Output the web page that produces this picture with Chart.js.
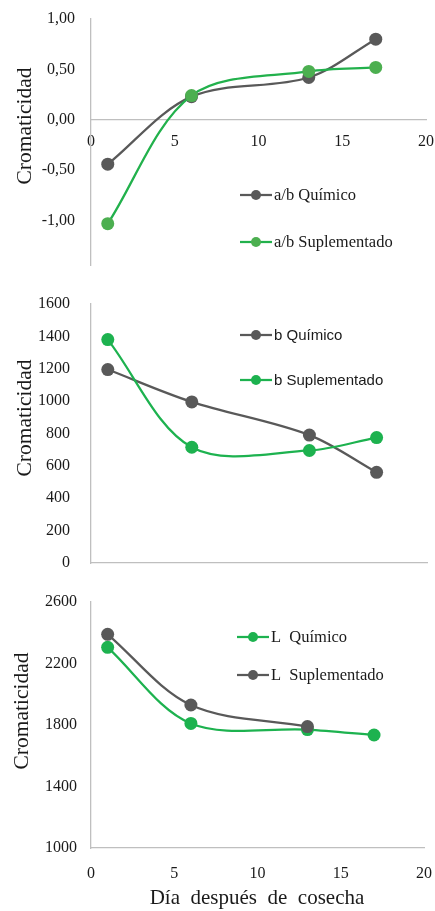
<!DOCTYPE html>
<html>
<head>
<meta charset="utf-8">
<script src="https://cdn.jsdelivr.net/npm/chart.js@4.4.1/dist/chart.umd.min.js"></script>
<style>
  html, body { margin: 0; padding: 0; background: #fff; }
  #wrap { position: relative; width: 435px; height: 911px; overflow: hidden; }
  .panel { position: absolute; left: 0; width: 435px; }
</style>
</head>
<body>
<div id="wrap">
  <div class="panel" style="top:0;height:285px"><canvas id="c1"></canvas></div>
  <div class="panel" style="top:285px;height:300px"><canvas id="c2"></canvas></div>
  <div class="panel" style="top:585px;height:326px"><canvas id="c3"></canvas></div>
</div>
<script>
// Días de muestreo después de la cosecha
const days = [1, 6, 13, 17];

// Relación a/b
const abQuimico = [-0.44, 0.23, 0.42, 0.80];
const abSuplementado = [-1.03, 0.24, 0.48, 0.52];

// Coordenada b
const bQuimico = [1195, 995, 790, 560];
const bSuplementado = [1380, 715, 695, 775];

// Luminosidad L
const lQuimico = [2305, 1810, 1770, 1735];
const lSuplementado = [2390, 1930, 1790];

const seriesNames = {
  ab: ['a/b Químico', 'a/b Suplementado'],
  b: ['b Químico', 'b Suplementado'],
  L: ['L  Químico', 'L  Suplementado']
};
const yAxisTitle = 'Cromaticidad';
const xAxisTitle = 'Día  después  de  cosecha';

const GRAY = '#595959';
const GREEN = '#1DB24F';
const GREEN_SOFT = '#4CAF50';
const AXIS = '#BFBFBF';
const TEXT = '#1a1a1a';
const SERIF = '"Liberation Serif", "Times New Roman", serif';
const SANS = '"Liberation Sans", Arial, sans-serif';

const pairs = (ys) => ys.map((y, i) => ({ x: days[i], y }));

// Leyenda con línea y marcador, dibujada dentro del área del gráfico
const seriesKey = {
  id: 'seriesKey',
  afterDraw(chart, args, opts) {
    const ctx = chart.ctx;
    ctx.save();
    chart.data.datasets.forEach((ds, i) => {
      const y = opts.y + i * opts.gap;
      const x = opts.x;
      ctx.strokeStyle = ds.borderColor;
      ctx.lineWidth = 2.25;
      ctx.beginPath();
      ctx.moveTo(x, y);
      ctx.lineTo(x + 32, y);
      ctx.stroke();
      ctx.fillStyle = ds.pointBackgroundColor;
      ctx.beginPath();
      ctx.arc(x + 16, y, 5, 0, Math.PI * 2);
      ctx.fill();
      ctx.fillStyle = TEXT;
      ctx.font = opts.font;
      ctx.textAlign = 'left';
      ctx.textBaseline = 'middle';
      ctx.fillText(ds.label, x + 34, y + 1);
    });
    ctx.restore();
  }
};

// Títulos de ejes
const captions = {
  id: 'captions',
  afterDraw(chart, args, opts) {
    const ctx = chart.ctx;
    (opts.items || []).forEach(it => {
      ctx.save();
      ctx.translate(it.x, it.y);
      ctx.rotate(it.rotate || 0);
      ctx.font = it.font;
      ctx.fillStyle = TEXT;
      ctx.textAlign = 'center';
      ctx.textBaseline = 'middle';
      ctx.fillText(it.text, 0, 0);
      ctx.restore();
    });
  }
};

function lineSet(label, ys, line, marker, order) {
  return {
    label,
    data: pairs(ys),
    borderColor: line,
    backgroundColor: marker,
    pointBackgroundColor: marker,
    pointBorderColor: marker,
    pointBorderWidth: 0,
    pointRadius: 6.5,
    pointHoverRadius: 6.5,
    borderWidth: 2.25,
    tension: 0.33,
    fill: false,
    order
  };
}

const tickFont = { family: SERIF, size: 16 };

function baseOptions(cfg) {
  const xAfterFit = cfg.xHeight == null
    ? (s) => { s.paddingLeft = 0; s.paddingRight = 0; }
    : (s) => { s.paddingLeft = 0; s.paddingRight = 0; s.height = cfg.xHeight; };
  return {
    responsive: true,
    maintainAspectRatio: false,
    animation: false,
    devicePixelRatio: 1,
    events: [],
    layout: { padding: cfg.padding },
    plugins: {
      legend: { display: false },
      tooltip: { enabled: false },
      seriesKey: cfg.key,
      captions: { items: cfg.captions }
    },
    scales: {
      x: Object.assign({
        type: 'linear',
        min: 0, max: 20,
        grid: { display: false, drawTicks: false },
        border: { display: true, color: AXIS, width: 1.3 },
        ticks: { display: cfg.xTicks, stepSize: 5, padding: cfg.xPad, font: tickFont, color: TEXT, maxRotation: 0 },
        afterFit: xAfterFit
      }, cfg.x || {}),
      y: Object.assign({
        type: 'linear',
        grid: { display: false, drawTicks: false },
        border: { display: true, color: AXIS, width: 1.3 },
        afterFit(s) { s.width = 91; s.paddingTop = 0; s.paddingBottom = 0; }
      }, cfg.y || {})
    }
  };
}

// Gráfico 1: relación a/b
new Chart(document.getElementById('c1'), {
  type: 'line',
  data: {
    datasets: [
      lineSet(seriesNames.ab[0], abQuimico, GRAY, GRAY, 2),
      lineSet(seriesNames.ab[1], abSuplementado, '#22B14C', GREEN_SOFT, 1)
    ]
  },
  options: baseOptions({
    padding: { top: 19, right: 9, bottom: 20, left: 0 },
    xTicks: true, xPad: 12,
    x: { position: { y: 0 } },
    y: {
      min: -1.44, max: 1,
      ticks: {
        stepSize: 0.5, includeBounds: false, padding: 16, font: tickFont, color: TEXT,
        callback: v => v.toFixed(2).replace('.', ',')
      }
    },
    key: { x: 240, y: 195, gap: 47, font: '16.5px ' + SERIF },
    captions: [
      { text: yAxisTitle, x: 25, y: 126, rotate: -Math.PI / 2, font: '21.5px ' + SERIF }
    ]
  }),
  plugins: [seriesKey, captions]
});

// Gráfico 2: coordenada b
new Chart(document.getElementById('c2'), {
  type: 'line',
  data: {
    datasets: [
      lineSet(seriesNames.b[0], bQuimico, GRAY, GRAY, 2),
      lineSet(seriesNames.b[1], bSuplementado, GREEN, GREEN, 1)
    ]
  },
  options: baseOptions({
    padding: { top: 19, right: 8, bottom: 22, left: 0 },
    xTicks: false, xPad: 0, xHeight: 0,
    y: {
      min: 0, max: 1600,
      ticks: { stepSize: 200, padding: 21, font: tickFont, color: TEXT, callback: v => String(v) }
    },
    key: { x: 240, y: 50, gap: 45, font: '15px ' + SANS },
    captions: [
      { text: yAxisTitle, x: 25, y: 133, rotate: -Math.PI / 2, font: '21.5px ' + SERIF }
    ]
  }),
  plugins: [seriesKey, captions]
});

// Gráfico 3: luminosidad L
new Chart(document.getElementById('c3'), {
  type: 'line',
  data: {
    datasets: [
      lineSet(seriesNames.L[0], lQuimico, GREEN, GREEN, 2),
      lineSet(seriesNames.L[1], lSuplementado, GRAY, GRAY, 1)
    ]
  },
  options: baseOptions({
    padding: { top: 17, right: 11, bottom: 0, left: 0 },
    xTicks: true, xPad: 16, xHeight: 63,
    y: {
      min: 1000, max: 2600,
      ticks: { stepSize: 400, padding: 14, font: tickFont, color: TEXT, callback: v => String(v) }
    },
    key: { x: 237, y: 52, gap: 38, font: '16.5px ' + SERIF },
    captions: [
      { text: yAxisTitle, x: 22, y: 126, rotate: -Math.PI / 2, font: '21.5px ' + SERIF },
      { text: xAxisTitle, x: 257, y: 313, rotate: 0, font: '21px ' + SERIF }
    ]
  }),
  plugins: [seriesKey, captions]
});
</script>
</body>
</html>
